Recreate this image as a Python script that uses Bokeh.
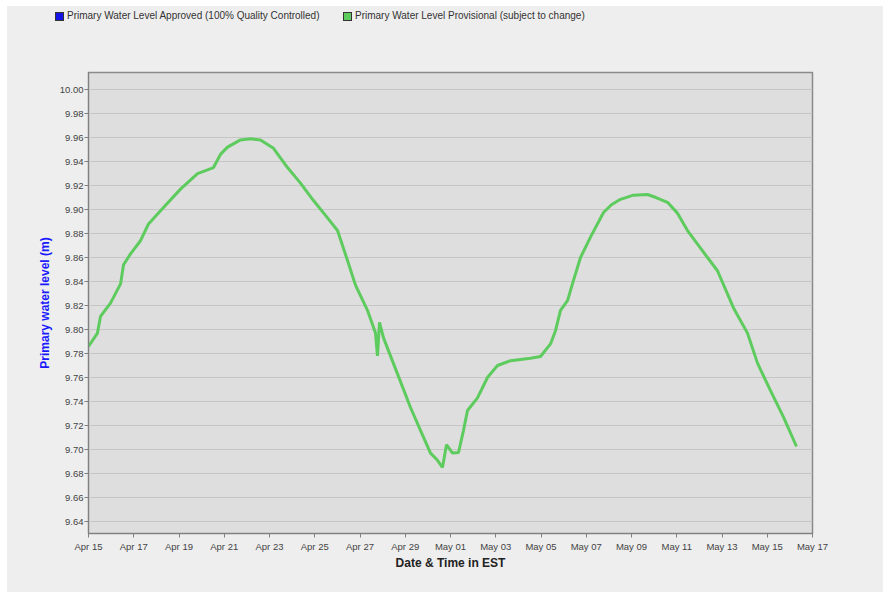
import pandas as pd
from bokeh.plotting import figure
from bokeh.layouts import column
from bokeh.models import (Range1d, FixedTicker, NumeralTickFormatter, DatetimeTickFormatter,
                          ColumnDataSource, Div)
from bokeh.embed import file_html
from bokeh.resources import INLINE

# ---- data ----
times = [
    "2024-04-15 00:00", "2024-04-15 09:30", "2024-04-15 12:45", "2024-04-15 23:20",
    "2024-04-16 10:00", "2024-04-16 13:10", "2024-04-16 20:33", "2024-04-17 07:10",
    "2024-04-17 15:40", "2024-04-18 04:22", "2024-04-19 01:35", "2024-04-19 19:38",
    "2024-04-20 12:36", "2024-04-20 20:01", "2024-04-21 03:27", "2024-04-21 17:14",
    "2024-04-22 03:50", "2024-04-22 14:27", "2024-04-23 04:15", "2024-04-23 19:06",
    "2024-04-24 08:53", "2024-04-24 22:40", "2024-04-25 13:32", "2024-04-26 00:09",
    "2024-04-26 10:45", "2024-04-26 19:13", "2024-04-27 07:56", "2024-04-27 16:26",
    "2024-04-27 18:33", "2024-04-27 20:41", "2024-04-28 00:56", "2024-04-28 15:46",
    "2024-04-29 05:34", "2024-04-29 16:10", "2024-04-30 02:47", "2024-04-30 10:12",
    "2024-04-30 15:30", "2024-04-30 19:45", "2024-05-01 02:07", "2024-05-01 08:30",
    "2024-05-01 13:48", "2024-05-01 18:02", "2024-05-02 04:38", "2024-05-02 15:14",
    "2024-05-03 01:51", "2024-05-03 15:38", "2024-05-04 12:52", "2024-05-04 23:28",
    "2024-05-05 10:05", "2024-05-05 15:23", "2024-05-05 20:41", "2024-05-06 04:06",
    "2024-05-06 10:28", "2024-05-06 17:54", "2024-05-07 04:30", "2024-05-07 18:18",
    "2024-05-08 02:40", "2024-05-08 12:20", "2024-05-09 02:07", "2024-05-09 16:58",
    "2024-05-10 02:00", "2024-05-10 14:11",
    "2024-05-11 00:47", "2024-05-11 11:24", "2024-05-12 08:37", "2024-05-12 19:13",
    "2024-05-13 12:12", "2024-05-14 03:02", "2024-05-14 13:39", "2024-05-15 03:27",
    "2024-05-15 17:14", "2024-05-16 07:02",
]
levels = [
    9.786, 9.797, 9.811, 9.822,
    9.838, 9.854, 9.863, 9.874,
    9.888, 9.899, 9.917, 9.930,
    9.935, 9.946, 9.952, 9.958,
    9.959, 9.958, 9.951, 9.935,
    9.922, 9.9075, 9.893, 9.8825,
    9.8575, 9.837, 9.816, 9.797,
    9.778, 9.806, 9.793, 9.763,
    9.735, 9.716, 9.697, 9.691,
    9.685, 9.704, 9.697, 9.6975,
    9.716, 9.7325, 9.743, 9.760,
    9.770, 9.774, 9.776, 9.7775,
    9.788, 9.799, 9.816, 9.824,
    9.841, 9.860, 9.877, 9.8975,
    9.904, 9.9085, 9.912, 9.9125,
    9.910, 9.906,
    9.897, 9.8825, 9.860, 9.849,
    9.818, 9.797, 9.772, 9.749,
    9.727, 9.7025,
]
y_ticks = [9.64, 9.66, 9.68, 9.70, 9.72, 9.74, 9.76, 9.78, 9.80, 9.82, 9.84,
           9.86, 9.88, 9.90, 9.92, 9.94, 9.96, 9.98, 10.00]
x_tick_dates = ["2024-04-15", "2024-04-17", "2024-04-19", "2024-04-21", "2024-04-23",
                "2024-04-25", "2024-04-27", "2024-04-29", "2024-05-01", "2024-05-03",
                "2024-05-05", "2024-05-07", "2024-05-09", "2024-05-11", "2024-05-13",
                "2024-05-15", "2024-05-17"]
legend_labels = ["Primary Water Level Approved (100% Quality Controlled)",
                 "Primary Water Level Provisional (subject to change)"]

FONT = "Liberation Sans"
GREEN = "#5dcb5d"
BLUE = "#1414e6"
BG = "#eeeeee"

t = pd.to_datetime(times)
src = ColumnDataSource(dict(t=t, v=levels))

x0 = pd.Timestamp("2024-04-15")
x1 = pd.Timestamp("2024-05-17")

# ---- legend strip (HTML) ----
LEG_H = 60
sw = ("position:absolute;top:6px;width:7px;height:7px;border:1px solid #333;"
      "box-sizing:content-box;")
tx = ("position:absolute;top:4px;line-height:12px;white-space:nowrap;")
legend_html = (
    f'<div style="position:relative;width:876px;height:{LEG_H}px;background:{BG};'
    f"font-family:'{FONT}';font-size:10px;color:#333333;\">"
    f'<span style="{sw}left:48px;background:{BLUE};"></span>'
    f'<span style="{tx}left:60px;">{legend_labels[0]}</span>'
    f'<span style="{sw}left:336px;background:{GREEN};"></span>'
    f'<span style="{tx}left:348px;">{legend_labels[1]}</span>'
    '</div>'
)
leg = Div(text=legend_html, width=876, height=LEG_H, margin=0,
          styles={"background-color": BG})

# ---- main chart ----
p = figure(width=876, height=586 - LEG_H, output_backend="svg", toolbar_location=None,
           x_axis_type="datetime",
           x_range=Range1d(x0, x1), y_range=Range1d(9.630, 10.0142),
           min_border_left=81, min_border_right=71, min_border_top=66 - LEG_H,
           min_border_bottom=59, margin=0, styles={"background-color": BG})

p.border_fill_color = BG
p.background_fill_color = "#dedede"
p.outline_line_color = "#8a8a8a"
p.outline_line_width = 1.5

line = p.line("t", "v", source=src, line_color=GREEN, line_width=3)

p.xaxis.ticker = FixedTicker(ticks=[pd.Timestamp(d).value / 1e6 for d in x_tick_dates])
p.xaxis.formatter = DatetimeTickFormatter(days="%b %d", months="%b %d", hours="%b %d")
p.yaxis.ticker = FixedTicker(ticks=y_ticks)
p.yaxis.formatter = NumeralTickFormatter(format="0.00")

for ax in (p.xaxis[0], p.yaxis[0]):
    ax.axis_line_color = "#808080"
    ax.major_tick_line_color = "#808080"
    ax.major_tick_out = 4
    ax.major_tick_in = 0
    ax.minor_tick_line_color = None
    ax.major_label_text_font = FONT
    ax.major_label_text_font_size = "9.5px"
    ax.major_label_text_color = "#444444"
    ax.axis_label_text_font = FONT
    ax.axis_label_text_font_style = "bold"
    ax.axis_label_text_font_size = "12px"

p.xaxis.axis_label = "Date & Time in EST"
p.xaxis.axis_label_text_color = "#222222"
p.xaxis.major_label_standoff = 3
p.xaxis.axis_label_standoff = 1

p.yaxis.axis_label = "Primary water level (m)"
p.yaxis.axis_label_text_color = "#1a1aff"
p.yaxis.major_label_standoff = 1
p.yaxis.axis_label_standoff = 5

p.xgrid.grid_line_color = None
p.ygrid.grid_line_color = "#c6c6c6"
p.ygrid.grid_line_width = 1

layout = column(leg, p, spacing=0, margin=(6, 0, 0, 7),
                styles={"background-color": BG})

open("out.html", "w").write(file_html(layout, INLINE))
